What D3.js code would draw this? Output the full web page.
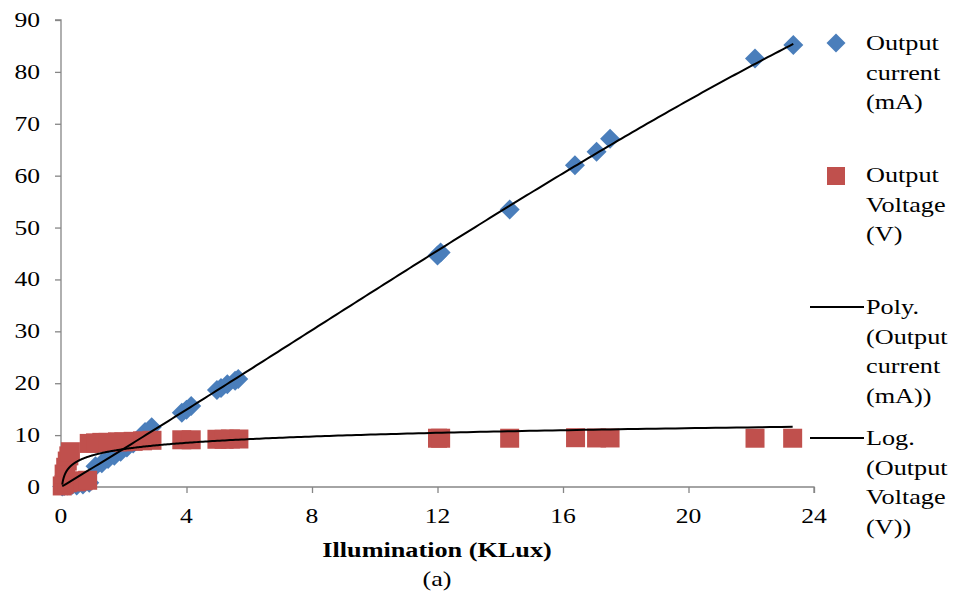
<!DOCTYPE html>
<html><head><meta charset="utf-8">
<script src="https://cdn.jsdelivr.net/npm/d3@7"></script>
<style>body{margin:0;background:#fff}svg{display:block}text{font-family:"Liberation Serif","Times New Roman",serif;fill:#000}</style>
</head><body><svg id="c" width="954" height="596"></svg>
<script>
// Output current (mA) — blue diamonds
const currentX = [0.04,0.1,0.2,0.35,0.5,0.7,0.9,1.1,1.3,1.5,1.7,1.9,2.1,2.3,2.5,2.68,2.89,3.85,4.0,4.15,4.97,5.1,5.3,5.55,5.65,12.0,12.1,14.3,16.38,17.07,17.5,22.12,23.34];
const currentY = [0.1,0.2,0.3,0.4,0.3,0.5,0.8,4.0,4.6,5.4,6.0,6.8,7.6,8.4,9.2,10.6,11.5,14.3,14.9,15.6,18.7,19.1,19.8,20.5,20.8,44.6,45.2,53.5,62.0,64.6,67.1,82.6,85.2];
// Output Voltage (V) — red squares
const voltageX = [0.04,0.1,0.2,0.3,0.5,0.7,0.85,0.1,0.15,0.2,0.25,0.3,0.9,1.1,1.3,1.5,1.8,2.0,2.3,2.6,2.9,3.85,4.15,4.97,5.2,5.4,5.67,12.0,12.1,14.3,16.4,17.07,17.5,22.12,23.32];
const voltageY = [0.2,0.5,0.8,1.0,1.0,1.2,1.3,2.5,3.8,5.0,6.0,6.8,8.4,8.5,8.6,8.6,8.7,8.7,8.8,8.9,9.0,9.1,9.1,9.2,9.2,9.25,9.25,9.4,9.4,9.4,9.5,9.45,9.45,9.4,9.4];
// Trendline coefficients
const polyCoef = [0, 3.645, 0.0253, -0.00106]; // c0 + c1 x + c2 x^2 + c3 x^3
const logCoef = [1.75, 6.09];                  // a ln(x) + b
const xTicks = [0,4,8,12,16,20,24];
const yTicks = [0,10,20,30,40,50,60,70,80,90];
const legendItems = [
  {type:"diamond", lines:["Output","current","(mA)"]},
  {type:"square", lines:["Output","Voltage","(V)"]},
  {type:"line", lines:["Poly.","(Output","current","(mA))"]},
  {type:"line", lines:["Log.","(Output","Voltage","(V))"]}
];
const xTitle = "Illumination (KLux)";
const caption = "(a)";

const BLUE = "#4A7EBB", RED = "#C0504D", AXIS = "#868686";
const SX = 1.22;
const svg = d3.select("#c");
const x = d3.scaleLinear().domain([0,24]).range([61,814]);
const y = d3.scaleLinear().domain([0,90]).range([487,20]);

function txt(px, py, s, anchor, size, weight){
  return svg.append("text").attr("transform",`translate(${px},${py}) scale(${SX},1)`)
    .attr("text-anchor",anchor).style("font-size",size+"px").style("font-weight",weight||"normal").text(s);
}

// axes
const gx = svg.append("g").attr("transform","translate(0,487)")
  .call(d3.axisBottom(x).tickValues(xTicks).tickSize(6).tickFormat(""));
const gy = svg.append("g").attr("transform","translate(61,0)")
  .call(d3.axisLeft(y).tickValues(yTicks).tickSize(6).tickFormat(""));
[gx,gy].forEach(g=>{g.selectAll("path,line").attr("stroke",AXIS).attr("stroke-width",1.3);});
gx.select(".domain").attr("d","M61,6V0H814V6");
gy.select(".domain").attr("d","M-6,20H0V487H-6");

xTicks.forEach(t=>txt(x(t),523,String(t),"middle",21));
yTicks.forEach(t=>txt(40,y(t)+7,String(t),"end",21));
txt(437,557,xTitle,"middle",21.5,"bold");
txt(437,586,caption,"middle",21.5);

// series
const cur = currentX.map((v,i)=>({x:v,y:currentY[i]}));
const vol = voltageX.map((v,i)=>({x:v,y:voltageY[i]}));
const dia = d3.symbol().type(d3.symbolDiamond2 || d3.symbolSquare).size(200);
svg.append("g").selectAll("path").data(cur).join("path")
  .attr("d", "M0,-10L10,0L0,10L-10,0Z")
  .attr("transform",d=>`translate(${x(d.x)},${y(d.y)})`).attr("fill",BLUE);
svg.append("g").selectAll("rect").data(vol).join("rect")
  .attr("x",d=>x(d.x)-9.5).attr("y",d=>y(d.y)-9.5).attr("width",19).attr("height",19)
  .attr("fill",RED);

// trendlines
const xmin = d3.min(currentX), xmax = d3.max(currentX);
const polyPts = d3.range(0,201).map(i=>{const t=xmin+(xmax-xmin)*i/200;return [t, polyCoef[0]+polyCoef[1]*t+polyCoef[2]*t*t+polyCoef[3]*t*t*t];});
const vmin = d3.min(voltageX), vmax = d3.max(voltageX);
const logPts = d3.range(0,401).map(i=>{const t=vmin*Math.pow(vmax/vmin,i/400);return [t, logCoef[0]*Math.log(t)+logCoef[1]];});
const line = d3.line().x(d=>x(d[0])).y(d=>y(d[1]));
svg.append("path").attr("d",line(polyPts)).attr("fill","none").attr("stroke","#000").attr("stroke-width",2);
svg.append("path").attr("d",line(logPts)).attr("fill","none").attr("stroke","#000").attr("stroke-width",2);

// legend
const legTop = [50,182,314,445];
const legMark = [43,176,307,438];
legendItems.forEach((it,k)=>{
  const my = legMark[k];
  if(it.type==="diamond") svg.append("path").attr("d","M0,-9.5L9.5,0L0,9.5L-9.5,0Z").attr("transform",`translate(836,${my})`).attr("fill",BLUE);
  else if(it.type==="square") svg.append("rect").attr("x",827).attr("y",my-9).attr("width",18).attr("height",18).attr("fill",RED);
  else svg.append("line").attr("x1",810).attr("x2",864).attr("y1",my).attr("y2",my).attr("stroke","#000").attr("stroke-width",2);
  it.lines.forEach((s,j)=>txt(866,legTop[k]+j*29.7,s,"start",21.5));
});
</script></body></html>
